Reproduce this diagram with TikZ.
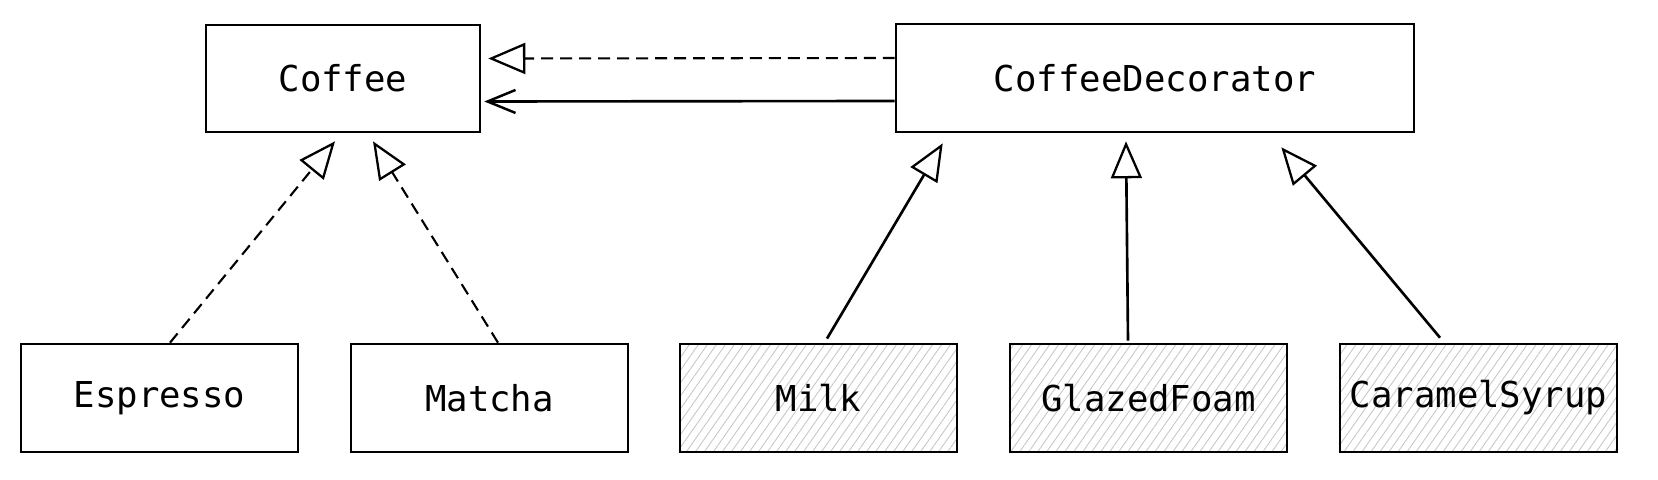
\documentclass[tikz,border=0pt]{standalone}
\usepackage{fontspec}
\setmonofont{DejaVu Sans Mono}
\usepackage{tikz}
\usetikzlibrary{arrows.meta,positioning,calc,patterns.meta}

\begin{document}
\begin{tikzpicture}[
  x=0.02cm, y=-0.02cm,
  cls/.style={rectangle, draw, line width=1.5pt, inner sep=0pt,
              minimum width=5.54cm, minimum height=2.16cm,
              font=\ttfamily\fontsize{20.3}{24}\selectfont},
  deco/.style={cls, pattern={Lines[angle=55, distance=4.2pt, line width=0.5pt]},
               pattern color=black!22},
  impl/.style={-{Triangle[open, length=0.74cm, width=0.62cm, line width=1.3pt]},
               line width=1.2pt, dash pattern=on 6.8pt off 4pt},
  ext/.style={-{Triangle[open, length=0.74cm, width=0.62cm, line width=1.3pt]},
              line width=1.5pt},
  uses/.style={-{Straight Barb[length=0.56cm, width=0.46cm, line width=1.4pt]},
               line width=1.5pt}]

\useasboundingbox (0,0) rectangle (1658,480);

% ================= the two top classes ===================================
\node[cls, minimum width=5.48cm, minimum height=2.14cm] (coffee) at (343,78.5) {Coffee};
\node[cls, minimum width=10.36cm, minimum height=2.16cm] (decorator) at (1155,78) {CoffeeDecorator};

% ================= the concrete classes ==================================
\node[cls]  (espresso) at (159.5,398) {Espresso};
\node[cls]  (matcha)   at (489.5,398) {Matcha};
\node[deco] (milk)     at (818.5,398) {Milk};
\node[deco] (glazed)   at (1148.5,398) {GlazedFoam};
\node[deco] (caramel)  at (1478.5,398) {CaramelSyrup};

% ================= the links ==============================================
\draw[impl] ([yshift=0.4cm]decorator.west) -- ([shift={(0.14cm,0.4cm)}]coffee.east);
\draw[uses] ([yshift=-0.46cm]decorator.west) -- ([shift={(0.06cm,-0.46cm)}]coffee.east);

\draw[impl] ([xshift=0.21cm]espresso.north) -- ([shift={(-0.16cm,-0.16cm)}]coffee.south);
\draw[impl] ([xshift=0.17cm]matcha.north)   -- ([shift={(0.6cm,-0.16cm)}]coffee.south);

\draw[ext] ([shift={(0.17cm,0.1cm)}]milk.north)     -- ([shift={(0.96cm,-0.2cm)}]decorator.south west);
\draw[ext] ([shift={(-0.41cm,0.04cm)}]glazed.north) -- ([shift={(-0.58cm,-0.16cm)}]decorator.south);
\draw[ext] ([shift={(-0.77cm,0.1cm)}]caramel.north) -- ([shift={(-2.68cm,-0.28cm)}]decorator.south east);

\end{tikzpicture}
\end{document}
